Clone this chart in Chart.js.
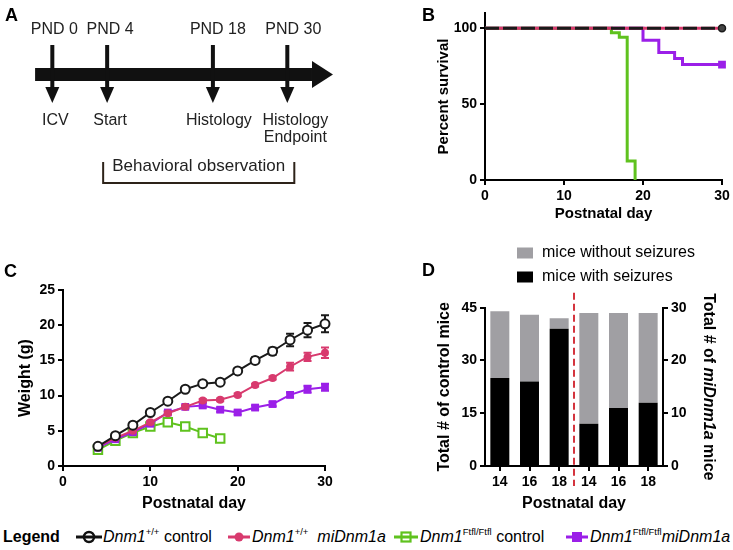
<!DOCTYPE html>
<html>
<head>
<meta charset="utf-8">
<script src="https://cdn.jsdelivr.net/npm/chart.js@4.4.1/dist/chart.umd.min.js"></script>
<style>
  body { margin: 0; background: #fff; font-family: "Liberation Sans", Arial, Helvetica, sans-serif; }
  #fig { position: relative; width: 733px; height: 550px; overflow: hidden; background: #fff; }
  canvas { position: absolute; }
  .panel { position: absolute; font-weight: bold; font-size: 18px; line-height: 18px; color: #000; }
  .leg { position: absolute; top: 527px; font-size: 16px; line-height: 20px; white-space: nowrap; color: #000; }
  .leg svg { position: absolute; top: 0; }
  .leg sup { font-size: 9.5px; position: relative; top: -7px; vertical-align: baseline; font-style: normal; }
</style>
</head>
<body>
<div id="fig">
  <canvas id="chartA" width="360" height="200" style="left:0;top:0"></canvas>
  <canvas id="chartB" width="333" height="230" style="left:400px;top:0"></canvas>
  <canvas id="chartC" width="360" height="245" style="left:0;top:270px"></canvas>
  <canvas id="chartD" width="333" height="280" style="left:400px;top:235px"></canvas>

  <div class="panel" style="left:5px;top:6px">A</div>
  <div class="panel" style="left:422px;top:6px">B</div>
  <div class="panel" style="left:4px;top:262px">C</div>
  <div class="panel" style="left:422px;top:261px">D</div>

  <div class="leg" style="left:3px;font-weight:bold">Legend</div>
  <div class="leg" style="left:76px"><svg width="26" height="20"><line x1="0" y1="10" x2="26" y2="10" stroke="#111" stroke-width="3"/><circle cx="13" cy="10" r="5" fill="none" stroke="#111" stroke-width="2.5"/></svg></div>
  <div class="leg" style="left:103px"><i>Dnm1</i><sup>+/+</sup> control</div>
  <div class="leg" style="left:228px"><svg width="22" height="20"><line x1="0" y1="10" x2="22" y2="10" stroke="#d83a6e" stroke-width="3"/><circle cx="11" cy="10" r="4.5" fill="#d83a6e"/></svg></div>
  <div class="leg" style="left:252px"><i>Dnm1</i><sup>+/+</sup>&nbsp; <i>miDnm1a</i></div>
  <div class="leg" style="left:394px"><svg width="24" height="20"><line x1="0" y1="10" x2="24" y2="10" stroke="#5fc21e" stroke-width="3"/><rect x="7.5" y="5.5" width="9" height="9" fill="none" stroke="#5fc21e" stroke-width="2.2"/></svg></div>
  <div class="leg" style="left:420px"><i>Dnm1</i><sup>Ftfl/Ftfl</sup> control</div>
  <div class="leg" style="left:566px"><svg width="22" height="20"><line x1="0" y1="10" x2="22" y2="10" stroke="#9b1fe8" stroke-width="3"/><rect x="6" y="5" width="10" height="10" fill="#9b1fe8"/></svg></div>
  <div class="leg" style="left:590px"><i>Dnm1</i><sup>Ftfl/Ftfl</sup><i>miDnm1a</i></div>
</div>

<script>
const FONT = '"Liberation Sans", Arial, Helvetica, sans-serif';

// A: timeline (schematic, not to scale)
const pndTop = ['PND 0', 'PND 4', 'PND 18', 'PND 30'];
const pndBottom = [['ICV'], ['Start'], ['Histology'], ['Histology', 'Endpoint']];
const pndPos = [0, 7, 20.5, 30];

// B: survival (%), Kaplan-Meier steps
const survTicks = [0, 50, 100];
const survDays = [0, 30];
const survWt = [100, 100];
const survFtflCtrlDays = [0, 16, 17, 18, 19];
const survFtflCtrl = [100, 97, 94, 12.5, 0];
const survFtflMiDays = [0, 20, 22, 24, 25, 30];
const survFtflMi = [100, 92, 84, 80, 76, 76];

// C: weight (g)
const days = [4, 6, 8, 10, 12, 14, 16, 18, 20, 22, 24, 26, 28, 30];
const wtCtrl = [2.8, 4.3, 5.8, 7.6, 9.2, 10.9, 11.7, 11.9, 13.5, 15.0, 16.3, 17.9, 19.3, 20.2];
const wtCtrlErr = [0.2, 0.2, 0.2, 0.2, 0.2, 0.2, 0.2, 0.2, 0.3, 0.4, 0.5, 0.9, 1.0, 1.2];
const wtMi = [2.8, 4.0, 5.0, 6.2, 7.5, 8.4, 9.3, 9.4, 10.1, 11.5, 12.5, 14.1, 15.5, 16.1];
const wtMiErr = [0.1, 0.1, 0.1, 0.2, 0.2, 0.2, 0.2, 0.2, 0.2, 0.2, 0.2, 0.55, 0.6, 0.75];
const ftflMi = [2.6, 3.8, 4.8, 6.0, 7.6, 8.4, 8.6, 8.0, 7.6, 8.3, 8.8, 10.1, 10.9, 11.2];
const ftflMiErr = [0.1, 0.1, 0.1, 0.2, 0.2, 0.2, 0.3, 0.3, 0.3, 0.3, 0.3, 0.35, 0.5, 0.5];
const ftflCtrlDays = [4, 6, 8, 10, 12, 14, 16, 18];
const ftflCtrl = [2.3, 3.6, 4.7, 5.6, 6.2, 5.6, 4.7, 3.9];

// D: seizures
const seizureDays = ['14', '16', '18'];
const ctrlWith = [25, 24, 39];
const ctrlTotal = [44, 43, 42];
const miWith = [8, 11, 12];
const miTotal = [29, 29, 29];

const PINK = '#d83a6e', GREEN = '#5fc21e', PURPLE = '#9b1fe8', BLACK = '#1a1a1a', GREY = '#a09fa3';

const pts = (xs, ys) => xs.map((x, i) => ({ x: x, y: ys[i] }));
const tickFont = { family: FONT, size: 14, weight: 'bold' };
const gridStyle = { drawOnChartArea: false, color: '#000', lineWidth: 2, tickLength: 5 };
const borderStyle = { color: '#000', width: 2 };
const tickStyle = (extra) => Object.assign({ color: '#000', font: tickFont, padding: 3, maxRotation: 0 }, extra || {});
const axisTitle = (text, size, pad) => ({
  display: true, text: text, color: '#000',
  font: { family: FONT, size: size, weight: 'bold' }, padding: pad
});
const baseOptions = (padding) => ({
  responsive: false,
  animation: false,
  devicePixelRatio: 1,
  events: [],
  layout: { padding: padding },
  plugins: { legend: { display: false }, tooltip: { enabled: false } }
});

// ---------- A ----------
const topShift = [2, 3, 5, 6];
const botShift = [3, 3, 6, 8];
const timeline = {
  id: 'timeline',
  afterDraw(chart) {
    const ctx = chart.ctx;
    const px = v => chart.scales.x.getPixelForValue(v);
    ctx.save();
    ctx.fillStyle = '#111';
    const x0 = px(-2.2), xh = px(33.15), xt = px(35.83);
    ctx.fillRect(x0, 68, xh - x0, 13);
    ctx.beginPath();
    ctx.moveTo(xh, 61); ctx.lineTo(xt, 74.5); ctx.lineTo(xh, 88);
    ctx.closePath(); ctx.fill();

    ctx.textAlign = 'center';
    ctx.textBaseline = 'alphabetic';
    ctx.font = '16px ' + FONT;
    pndPos.forEach((p, i) => {
      const x = px(p);
      ctx.fillStyle = '#111';
      ctx.fillRect(x - 2, 45, 4, 44);
      ctx.beginPath();
      ctx.moveTo(x - 7, 87); ctx.lineTo(x + 7, 87); ctx.lineTo(x, 103);
      ctx.closePath(); ctx.fill();
      ctx.fillStyle = '#222';
      ctx.fillText(pndTop[i], x + topShift[i], 33.5);
      pndBottom[i].forEach((t, j) => ctx.fillText(t, x + botShift[i], 125 + j * 16.5));
    });

    // behavioural observation bracket, PND 4 to PND 30
    const bl = px(pndPos[1]) - 4, br = px(pndPos[3]) + 7;
    ctx.strokeStyle = '#2d2319';
    ctx.lineWidth = 2;
    ctx.beginPath();
    ctx.moveTo(bl, 162); ctx.lineTo(bl, 183); ctx.lineTo(br, 183); ctx.lineTo(br, 162);
    ctx.stroke();
    ctx.font = '17px ' + FONT;
    ctx.fillStyle = '#222';
    ctx.fillText('Behavioral observation', (bl + br) / 2, 170.5);
    ctx.restore();
  }
};

new Chart(document.getElementById('chartA'), {
  type: 'scatter',
  data: { datasets: [{ data: pndPos.map(p => ({ x: p, y: 0 })), pointRadius: 0 }] },
  options: Object.assign(baseOptions(0), {
    scales: {
      x: { type: 'linear', display: false, min: -6.68, max: 39.28 },
      y: { type: 'linear', display: false, min: -1, max: 1 }
    }
  }),
  plugins: [timeline]
});

// ---------- B ----------
new Chart(document.getElementById('chartB'), {
  type: 'line',
  data: {
    datasets: [
      {
        data: pts(survDays, survWt), borderColor: BLACK, borderWidth: 3, borderDash: [14, 4],
        pointRadius: [0, 3.5], pointStyle: 'circle', pointBackgroundColor: '#444',
        pointBorderColor: BLACK, pointBorderWidth: 1.5, clip: false
      },
      { data: pts(survDays, survWt), borderColor: PINK, borderWidth: 3, pointRadius: 0, clip: false },
      { data: pts(survFtflCtrlDays, survFtflCtrl), borderColor: GREEN, borderWidth: 3, stepped: true, pointRadius: 0, clip: false },
      {
        data: pts(survFtflMiDays, survFtflMi), borderColor: PURPLE, borderWidth: 3, stepped: true,
        pointRadius: survFtflMi.map((v, i) => i === survFtflMi.length - 1 ? 5.5 : 0),
        pointStyle: 'rect', pointBackgroundColor: PURPLE, pointBorderWidth: 0, clip: false
      }
    ]
  },
  options: Object.assign(baseOptions({ left: 0, right: 11, top: 13, bottom: 0 }), {
    scales: {
      x: {
        type: 'linear', min: 0, max: 30,
        ticks: tickStyle({ stepSize: 10 }), grid: gridStyle, border: borderStyle,
        title: axisTitle('Postnatal day', 15, { top: 0, bottom: 7 }),
        afterFit: s => { s.height = 50; }
      },
      y: {
        type: 'linear', min: 0, max: 110,
        ticks: tickStyle(), grid: gridStyle, border: borderStyle,
        title: axisTitle('Percent survival', 15, { top: 34.5, bottom: 0 }),
        afterBuildTicks: s => { s.ticks = survTicks.map(v => ({ value: v })); },
        afterFit: s => { s.width = 85; }
      }
    }
  })
});

// ---------- C ----------
const errorBars = {
  id: 'errorBars',
  beforeDatasetDraw(chart, args) {
    const ds = chart.data.datasets[args.index];
    if (!ds.errors) return;
    const ctx = chart.ctx, ys = chart.scales.y;
    ctx.save();
    ctx.strokeStyle = ds.borderColor;
    ctx.lineWidth = 2;
    args.meta.data.forEach((pt, i) => {
      const e = ds.errors[i];
      if (!e) return;
      const v = ds.data[i].y;
      const top = ys.getPixelForValue(v + e), bot = ys.getPixelForValue(v - e);
      ctx.beginPath();
      ctx.moveTo(pt.x, top); ctx.lineTo(pt.x, bot);
      ctx.moveTo(pt.x - 4, top); ctx.lineTo(pt.x + 4, top);
      ctx.moveTo(pt.x - 4, bot); ctx.lineTo(pt.x + 4, bot);
      ctx.stroke();
    });
    ctx.restore();
  }
};

new Chart(document.getElementById('chartC'), {
  type: 'line',
  data: {
    datasets: [
      {
        data: pts(days, wtCtrl), errors: wtCtrlErr, borderColor: BLACK, borderWidth: 2,
        pointStyle: 'circle', pointRadius: 4.5, pointBorderWidth: 2,
        pointBackgroundColor: '#fff', pointBorderColor: BLACK, clip: false
      },
      {
        data: pts(days, wtMi), errors: wtMiErr, borderColor: PINK, borderWidth: 2,
        pointStyle: 'circle', pointRadius: 4, pointBorderWidth: 0,
        pointBackgroundColor: PINK, clip: false
      },
      {
        data: pts(days, ftflMi), errors: ftflMiErr, borderColor: PURPLE, borderWidth: 2,
        pointStyle: 'rect', pointRadius: 5.5, pointBorderWidth: 0,
        pointBackgroundColor: PURPLE, clip: false
      },
      {
        data: pts(ftflCtrlDays, ftflCtrl), borderColor: GREEN, borderWidth: 2,
        pointStyle: 'rect', pointRadius: 6, pointBorderWidth: 2,
        pointBackgroundColor: '#fff', pointBorderColor: GREEN, clip: false
      }
    ]
  },
  options: Object.assign(baseOptions({ left: 0, right: 35, top: 20, bottom: 0 }), {
    scales: {
      x: {
        type: 'linear', min: 0, max: 30,
        ticks: tickStyle({ stepSize: 10 }), grid: gridStyle, border: borderStyle,
        title: axisTitle('Postnatal day', 16, { top: 0, bottom: 2 }),
        afterFit: s => { s.height = 49; }
      },
      y: {
        type: 'linear', min: 0, max: 25,
        ticks: tickStyle({ stepSize: 5 }), grid: gridStyle, border: borderStyle,
        title: axisTitle('Weight (g)', 16, { top: 16.4, bottom: 0 }),
        afterFit: s => { s.width = 63; }
      }
    }
  }),
  plugins: [errorBars]
});

// ---------- D ----------
const none3 = [null, null, null];
const panelD = {
  id: 'panelD',
  afterDraw(chart) {
    const { ctx, chartArea: ca, scales: { x } } = chart;
    ctx.save();
    // divider between control and miDnm1a groups
    const xm = (x.getPixelForValue(2) + x.getPixelForValue(3)) / 2;
    ctx.strokeStyle = '#d4343e';
    ctx.lineWidth = 2;
    ctx.setLineDash([7, 4]);
    ctx.beginPath();
    ctx.moveTo(xm, ca.top - 15); ctx.lineTo(xm, ca.bottom + 20);
    ctx.stroke();
    ctx.setLineDash([]);

    // legend
    ctx.font = '16px ' + FONT;
    ctx.textBaseline = 'middle';
    ctx.textAlign = 'left';
    ctx.fillStyle = GREY; ctx.fillRect(117, 12.5, 16, 11);
    ctx.fillStyle = '#000'; ctx.fillText('mice without seizures', 142, 18);
    ctx.fillStyle = '#000'; ctx.fillRect(117, 36.5, 16, 11);
    ctx.fillText('mice with seizures', 142, 42);

    // right axis title, with italic gene name
    const parts = [['Total # of ', 'bold'], ['miDnm1a', 'italic bold'], [' mice', 'bold']];
    const fontOf = st => st + ' 16px ' + FONT;
    let total = 0;
    parts.forEach(p => { ctx.font = fontOf(p[1]); total += ctx.measureText(p[0]).width; });
    ctx.translate(308, (ca.top + ca.bottom) / 2);
    ctx.rotate(Math.PI / 2);
    let cx = -total / 2;
    parts.forEach(p => {
      ctx.font = fontOf(p[1]);
      ctx.fillText(p[0], cx, 0);
      cx += ctx.measureText(p[0]).width;
    });
    ctx.restore();
  }
};

new Chart(document.getElementById('chartD'), {
  type: 'bar',
  data: {
    labels: seizureDays.concat(seizureDays),
    datasets: [
      { label: 'mice with seizures', data: ctrlWith.concat(none3), backgroundColor: '#000', yAxisID: 'y', stack: 's' },
      { label: 'mice without seizures', data: ctrlTotal.map((t, i) => t - ctrlWith[i]).concat(none3), backgroundColor: GREY, yAxisID: 'y', stack: 's' },
      { label: 'mice with seizures', data: none3.concat(miWith), backgroundColor: '#000', yAxisID: 'y1', stack: 's' },
      { label: 'mice without seizures', data: none3.concat(miTotal.map((t, i) => t - miWith[i])), backgroundColor: GREY, yAxisID: 'y1', stack: 's' }
    ]
  },
  options: Object.assign(baseOptions({ left: 0, right: 0, top: 72.7, bottom: 0 }), {
    categoryPercentage: 1,
    barPercentage: 0.64,
    scales: {
      x: {
        stacked: true,
        ticks: tickStyle(), grid: Object.assign({ offset: false }, gridStyle), border: borderStyle,
        title: axisTitle('Postnatal day', 16, { top: 0, bottom: 2 }),
        afterFit: s => { s.height = 49; }
      },
      y: {
        type: 'linear', position: 'left', stacked: true, min: 0, max: 45,
        ticks: tickStyle({ stepSize: 15 }), grid: gridStyle, border: borderStyle,
        title: axisTitle('Total # of control mice', 16, { top: 35.4, bottom: 0 }),
        afterFit: s => { s.width = 85; }
      },
      y1: {
        type: 'linear', position: 'right', stacked: true, min: 0, max: 30,
        ticks: tickStyle({ stepSize: 10 }), grid: gridStyle, border: borderStyle,
        afterFit: s => { s.width = 70; }
      }
    }
  }),
  plugins: [panelD]
});
</script>
</body>
</html>
